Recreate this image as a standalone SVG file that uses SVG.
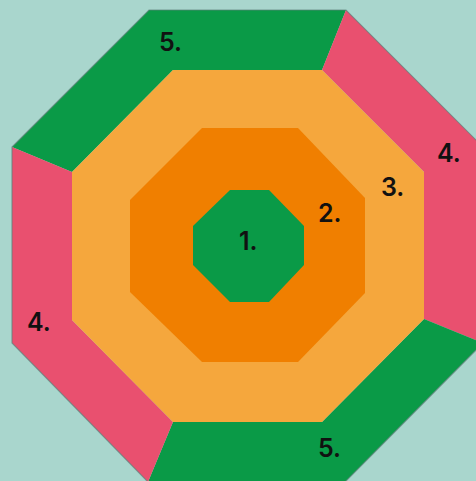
<svg xmlns="http://www.w3.org/2000/svg" width="476" height="481" viewBox="0 0 476 481">
  <style>
    .green { fill: #0a9a47; }
    .pink { fill: #e9506f; }
    .light { fill: #f5a73d; }
    .orange { fill: #f07f00; }
    .edge { fill: none; stroke: #60807a; stroke-width: 1.2; stroke-opacity: 0.7; }
    .lbl { font-family: Inter, "Liberation Sans", Arial, sans-serif; font-size: 25px; font-weight: 600; fill: #111111; }
  </style>
  <rect x="0" y="0" width="476" height="481" fill="#a9d6cd"/>
  <g id="ring5-top">
    <polygon class="green" points="12,147 149,10 346,10 322,70 173,70 72,172"/>
    <text class="lbl" x="159" y="51">5.</text>
  </g>
  <g id="ring4-right">
    <polygon class="pink" points="346,10 483,147 483,343 424,319 424,172 322,70"/>
    <text class="lbl" x="437" y="162">4.</text>
  </g>
  <g id="ring5-bottom">
    <polygon class="green" points="483,343 345,482 148,482 173,422 322,422 424,319"/>
    <text class="lbl" x="318" y="457">5.</text>
  </g>
  <g id="ring4-left">
    <polygon class="pink" points="148,482 12,343 12,147 72,172 72,320 173,422"/>
    <text class="lbl" x="27" y="331">4.</text>
  </g>
  <polygon class="edge" points="149,10 346,10 483,147 483,343 345,482 148,482 12,343 12,147"/>
  <g id="ring3">
    <polygon class="light" points="173,70 322,70 424,172 424,319 322,422 173,422 72,320 72,172"/>
    <text class="lbl" x="381" y="196">3.</text>
  </g>
  <g id="ring2">
    <polygon class="orange" points="202,128 298,128 365,198 365,293 298,362 202,362 130,292 130,200"/>
    <text class="lbl" x="318" y="222">2.</text>
  </g>
  <g id="ring1">
    <polygon class="green" points="230,190 269,190 304,226 304,265 269,302 230,302 193,265 193,226"/>
    <text class="lbl" x="239" y="250">1.</text>
  </g>
  <g id="connectors"/>
</svg>
